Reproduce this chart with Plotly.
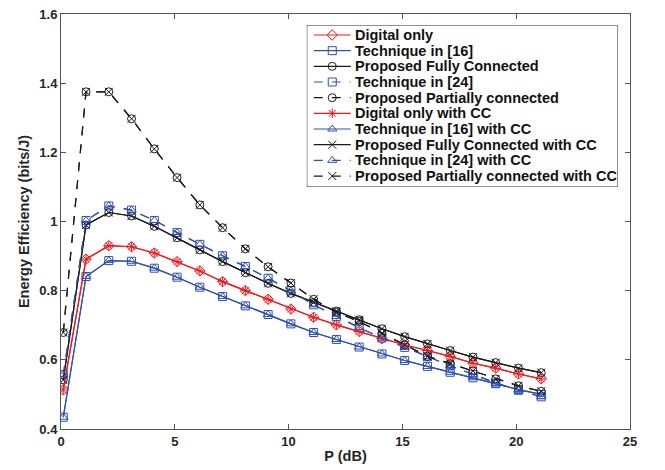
import plotly.graph_objects as go

# P (dB) sample positions
p_db = [0.1 + k for k in range(22)]

digital = [0.513, 0.891, 0.930, 0.927, 0.909, 0.884, 0.857, 0.826, 0.800, 0.775,
           0.747, 0.723, 0.701, 0.682, 0.661, 0.643, 0.627, 0.610, 0.590, 0.576,
           0.559, 0.545]
tech16 = [0.434, 0.841, 0.887, 0.885, 0.865, 0.839, 0.810, 0.783, 0.756, 0.731,
          0.704, 0.679, 0.659, 0.637, 0.617, 0.598, 0.581, 0.564, 0.548, 0.531,
          0.514, 0.500]
fully = [0.542, 0.990, 1.026, 1.016, 0.986, 0.953, 0.918, 0.884, 0.852, 0.821,
         0.792, 0.766, 0.741, 0.716, 0.690, 0.667, 0.646, 0.627, 0.608, 0.592,
         0.576, 0.563]
tech24 = [0.557, 1.003, 1.045, 1.033, 1.003, 0.968, 0.934, 0.901, 0.870, 0.836,
          0.800, 0.759, 0.725, 0.693, 0.663, 0.636, 0.609, 0.583, 0.558, 0.533,
          0.512, 0.493]
partial = [0.679, 1.375, 1.375, 1.297, 1.210, 1.127, 1.048, 0.982, 0.921, 0.869,
           0.822, 0.775, 0.737, 0.711, 0.677, 0.643, 0.610, 0.589, 0.568, 0.545,
           0.525, 0.509]

x_ticks = [0, 5, 10, 15, 20, 25]
y_ticks = [0.4, 0.6, 0.8, 1.0, 1.2, 1.4, 1.6]
y_ticktext = ["0.4", "0.6", "0.8", "1", "1.2", "1.4", "1.6"]

RED = "#f0191e"
BLUE = "#3050b0"
BLACK = "#1a1a1a"
FONT = "Liberation Sans, Arial, Helvetica"
TXT = "#262626"

series = [
    ("Digital only", digital, RED, "solid", "diamond-open"),
    ("Technique in [16]", tech16, BLUE, "solid", "square-open"),
    ("Proposed Fully Connected", fully, BLACK, "solid", "circle-open"),
    ("Technique in [24]", tech24, BLUE, "dash", "square-open"),
    ("Proposed Partially connected", partial, BLACK, "dash", "circle-open"),
    ("Digital only with CC", digital, RED, "solid", "asterisk-open"),
    ("Technique in [16] with CC", tech16, BLUE, "solid", "triangle-up-open"),
    ("Proposed Fully Connected with CC", fully, BLACK, "solid", "x-thin-open"),
    ("Technique in [24] with CC", tech24, BLUE, "dash", "triangle-up-open"),
    ("Proposed Partially connected with CC", partial, BLACK, "dash", "x-thin-open"),
]

fig = go.Figure()
for name, ys, color, dash, sym in series:
    fig.add_trace(go.Scatter(
        x=p_db, y=ys, name=name, mode="lines+markers", showlegend=False,
        line=dict(color=color, width=1.2, dash=dash),
        marker=dict(symbol=sym, size=8, color=color, line=dict(color=color, width=1)),
    ))

# ---- layout geometry (page pixels; the page body adds an 8px offset) ----
OFF = 8
W, H = 665 - OFF, 470 - OFF
PL, PR, PT, PB = 61, 630.5, 14, 429           # plot area in page pixels
ML, MT = PL - OFF, PT - OFF
MR, MB = W - (PR - OFF), H - (PB - OFF)
PW, PH = PR - PL, PB - PT

# MATLAB-style compact legend, drawn on an overlay axis in page-pixel units
LX0, LX1, LY0, LY1 = 307, 618, 25, 187
ROW0, ROWSTEP = 35.0, 15.67
SAMP0, SAMP1, TEXTX = 314, 351, 354

for i, (name, ys, color, dash, sym) in enumerate(series):
    ry = ROW0 + i * ROWSTEP
    fig.add_trace(go.Scatter(
        x=[SAMP0, SAMP1], y=[ry, ry], mode="lines", showlegend=False, hoverinfo="skip",
        line=dict(color=color, width=1.2, dash=dash), xaxis="x2", yaxis="y2"))
    fig.add_trace(go.Scatter(
        x=[(SAMP0 + SAMP1) / 2], y=[ry], mode="markers", showlegend=False, hoverinfo="skip",
        marker=dict(symbol=sym, size=8, color=color, line=dict(color=color, width=1)),
        xaxis="x2", yaxis="y2"))
    fig.add_annotation(x=TEXTX, y=ry, xref="x2", yref="y2", text=name, showarrow=False,
                       xanchor="left", yanchor="middle", borderpad=0,
                       font=dict(family=FONT, size=14.5, color="#111111", weight="bold"))

fig.add_shape(type="rect", xref="x2", yref="y2", x0=LX0, x1=LX1, y0=LY0, y1=LY1,
              line=dict(color="#222222", width=1), fillcolor="rgba(0,0,0,0)")

axis_common = dict(
    showline=True, linecolor="#555555", linewidth=1, mirror="allticks",
    ticks="inside", ticklen=5, tickcolor="#555555", showgrid=False, zeroline=False,
    automargin=False, ticklabeloverflow="allow",
    tickfont=dict(family=FONT, size=13, color=TXT, weight="bold"),
)

fig.update_layout(
    width=W, height=H,
    margin=dict(l=ML, r=MR, t=MT, b=MB, autoexpand=False),
    plot_bgcolor="white", paper_bgcolor="white",
    showlegend=False,
    xaxis=dict(range=[0, 25], tickvals=x_ticks,
               title=dict(text="P (dB)", standoff=3,
                          font=dict(family=FONT, size=14.5, color=TXT, weight="bold")),
               **axis_common),
    yaxis=dict(range=[0.4, 1.6], tickvals=y_ticks, ticktext=y_ticktext,
               title=dict(text="Energy Efficiency (bits/J)", standoff=6,
                          font=dict(family=FONT, size=14.5, color=TXT, weight="bold")),
               **axis_common),
    xaxis2=dict(domain=[(LX0 - PL) / PW, (LX1 - PL) / PW], range=[LX0, LX1],
                anchor="y2", visible=False, fixedrange=True),
    yaxis2=dict(domain=[(PB - LY1) / PH, (PB - LY0) / PH], range=[LY1, LY0],
                anchor="x2", visible=False, fixedrange=True),
)

fig.write_html("out.html")
